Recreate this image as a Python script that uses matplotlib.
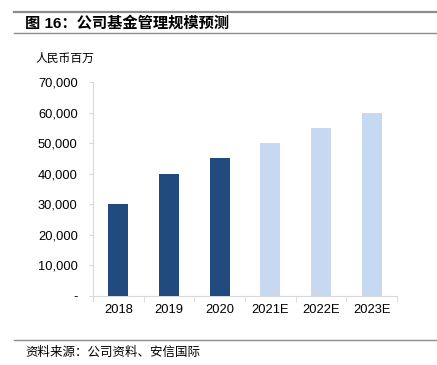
import matplotlib
matplotlib.use("Agg")
import matplotlib.pyplot as plt
from matplotlib.lines import Line2D

plt.rcParams['font.family'] = ['Liberation Sans', 'Noto Sans CJK SC', 'DejaVu Sans']

categories = ["2018", "2019", "2020", "2021E", "2022E", "2023E"]
values = [30000, 40000, 45000, 50000, 55000, 60000]
is_forecast = [False, False, False, True, True, True]
yticks = [0, 10000, 20000, 30000, 40000, 50000, 60000, 70000]
title = "图 16：公司基金管理规模预测"
unit = "人民币百万"
source = "资料来源：公司资料、安信国际"

W, H = 437, 365
fig = plt.figure(figsize=(W/100, H/100), dpi=100)

ax_l, ax_r, ax_t, ax_b = 93, 397, 82, 296
ax = fig.add_axes([ax_l/W, 1-ax_b/H, (ax_r-ax_l)/W, (ax_b-ax_t)/H])

dark = "#214A7E"
light = "#C6D9F1"
colors = [light if f else dark for f in is_forecast]
x = list(range(len(categories)))
ax.bar(x, values, width=0.4, color=colors, zorder=3)
ax.set_xlim(-0.5, len(categories)-0.5)
ax.set_ylim(0, 70000)
ax.set_yticks(yticks)
ax.set_yticklabels(["-" if v == 0 else f"{v:,}" for v in yticks], fontsize=9.3)
ax.set_xticks(x)
ax.set_xticklabels(categories, fontsize=9.3)
ax.tick_params(axis='x', length=0, pad=6)
ax.tick_params(axis='y', length=3, color="#D9D9D9", pad=8)
ax.set_xticks([i + 0.5 for i in range(-1, len(categories))], minor=True)
ax.tick_params(axis='x', which='minor', length=4, color="#D9D9D9")
for s in ['top', 'right']:
    ax.spines[s].set_visible(False)
for s in ['left', 'bottom']:
    ax.spines[s].set_color("#D9D9D9")
    ax.spines[s].set_linewidth(0.8)

def line(y, lw, c):
    fig.add_artist(Line2D([14/W, 1], [1-y/H, 1-y/H], lw=lw, color=c, transform=fig.transFigure))

line(12, 1.6, "#8C8C8C")
line(33, 1.0, "#8C8C8C")
line(340, 1.0, "#8C8C8C")

fig.text(25/W, 1-23/H, title, fontsize=11, fontweight='bold', va='center', ha='left',
         family=['Liberation Sans', 'Noto Sans CJK SC'])
fig.text(35/W, 1-58/H, unit, fontsize=8.5, va='center', ha='left', family=['Noto Sans CJK SC'])
fig.text(25/W, 1-352/H, source, fontsize=9, va='center', ha='left', style='italic',
         family=['Noto Sans CJK SC'])

fig.savefig("out.png", dpi=100)
